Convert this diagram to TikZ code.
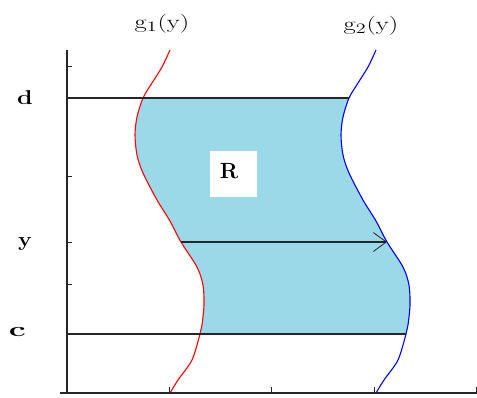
\documentclass[tikz,border=0pt]{standalone}
\usepackage{fontspec}
\usepackage{graphicx}
\usetikzlibrary{arrows.meta}
\definecolor{regfill}{RGB}{155,217,233}
\begin{document}
\begin{tikzpicture}[x=1pt,y=-1pt,
 axis/.style={line width=1.4pt, black!85},
 tickmark/.style={line width=1pt, black!85},
 bound/.style={line width=1.1pt, black!85},
 curvered/.style={red, line width=1.1pt},
 curveblue/.style={blue, line width=1.1pt},
 lbl/.style={font=\bfseries\fontsize{20}{22}\selectfont, inner sep=0pt},
 glbl/.style={font=\fontsize{19}{21}\selectfont, inner sep=0pt}]
\useasboundingbox (0,0) rectangle (477,397);
% fill region
\begin{scope}
\clip (0,98) rectangle (477,334);
\clip plot[smooth] coordinates {(170,50) (162,67) (152,83) (143,98) (137,117) (135,135) (137,155) (143,173) (157,200) (170,221) (181,242) (197,267) (203,285) (204,305) (202,325) (200,334) (192,360) (178,380) (170,393)} -- (600,393) -- (600,50) -- cycle;
\fill[regfill, xshift=206pt] plot[smooth] coordinates {(170,50) (162,67) (152,83) (143,98) (137,117) (135,135) (137,155) (143,173) (157,200) (170,221) (181,242) (197,267) (203,285) (204,305) (202,325) (200,334) (192,360) (178,380) (170,393)} -- (-600,393) -- (-600,50) -- cycle;
\end{scope}
% curves
\draw[curvered] plot[smooth] coordinates {(170,50) (162,67) (152,83) (143,98) (137,117) (135,135) (137,155) (143,173) (157,200) (170,221) (181,242) (197,267) (203,285) (204,305) (202,325) (200,334) (192,360) (178,380) (170,393)};
\draw[curveblue, xshift=206pt] plot[smooth] coordinates {(170,50) (162,67) (152,83) (143,98) (137,117) (135,135) (137,155) (143,173) (157,200) (170,221) (181,242) (197,267) (203,285) (204,305) (202,325) (200,334) (192,360) (178,380) (170,393)};
% axes
\coordinate (ytop) at (67,50);
\coordinate (origin) at (67,393);
\coordinate (xleft) at (60,393);
\coordinate (xright) at (477,393);
\draw[axis] (ytop) -- (origin);
\draw[axis] (xleft) -- (xright);
\foreach \yy in {66,176,242,284}
  \draw[tickmark] (66,\yy) -- (72,\yy);
\foreach \xx in {169,271,374,476}
  \draw[tickmark] (\xx,393) -- (\xx,387);
% boundary lines
\coordinate (dl) at (67,98);
\coordinate (dr) at (349,98);
\coordinate (cl) at (67,334);
\coordinate (cr) at (406,334);
\draw[bound] (dl) -- (dr);
\draw[bound] (cl) -- (cr);
% arrow
\coordinate (a1) at (181,242);
\coordinate (a2) at (387,242);
\draw[bound, -{Straight Barb[length=13pt,width=19pt,line width=0.8pt]}] (a1) -- (a2);
% labels
\node[lbl, anchor=base] (dlab) at (25,104) {\scalebox{1.25}[1]{d}};
\node[lbl, anchor=base] (ylab) at (25,246) {\scalebox{1.15}[1]{y}};
\node[lbl, anchor=base] (clab) at (17.5,336) {\scalebox{1.7}[1]{c}};
\node[fill=white, minimum width=47pt, minimum height=46pt, inner sep=0pt] (rbox) at (233.5,174) {};
\node[font=\bfseries\fontsize{22}{24}\selectfont, inner sep=0pt, anchor=base] (rlab) at (229,178) {R};
\node[glbl, anchor=base] (g1lab) at (162,28) {\scalebox{1.4}[1]{g$_1$(y)}};
\node[glbl, anchor=base] (g2lab) at (371,30) {\scalebox{1.4}[1]{g$_2$(y)}};
\end{tikzpicture}
\end{document}
